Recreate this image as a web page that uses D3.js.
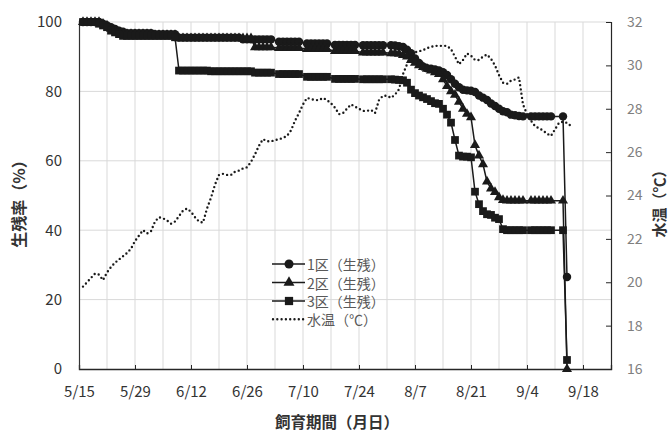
<!DOCTYPE html>
<html>
<head>
<meta charset="utf-8">
<script src="https://cdn.jsdelivr.net/npm/d3@7"></script>
<style>
  body { margin: 0; background: #fff; }
  svg text { font-family: "Noto Sans CJK JP", "Noto Sans", sans-serif; }
</style>
</head>
<body>
<div id="chart"></div>
<script>
//=====================data=========================
// days counted from 5/15
const xTickDays = [0, 14, 28, 42, 56, 70, 84, 98, 112, 126];
const xTickLabels = ['5/15', '5/29', '6/12', '6/26', '7/10', '7/24', '8/7', '8/21', '9/4', '9/18'];
const yLeftTicks = [0, 20, 40, 60, 80, 100];
const yRightTicks = [16, 18, 20, 22, 24, 26, 28, 30, 32];

const seriesNames = ['1区（生残）', '2区（生残）', '3区（生残）', '水温（℃）'];

// survival observation days
const obsDays = [
  1, 2, 3, 4, 5, 6, 7, 8, 9, 10, 11, 12, 13, 14, 15, 16, 17, 18, 19, 20, 21, 22, 23, 24,
  25, 26, 27, 28, 29, 30, 31, 32, 33, 34, 35, 36, 37, 38, 39, 40, 41, 42, 43, 44, 45, 46, 47, 48,
  50, 51, 52, 53, 54, 55, 57, 58, 59, 60, 61, 62, 64, 65, 66, 67, 68, 69, 71, 72, 73, 74, 75, 76,
  78, 79, 80, 81, 82, 83, 84, 85, 86, 87, 88, 89, 90, 91, 92, 93, 94, 95, 96, 97, 98, 99, 100,
  101, 102, 103, 104, 105, 106, 107, 108, 109, 110, 111, 113, 114, 115, 116, 117, 118, 121, 122];

const ku1 = [
  100, 100, 100, 100, 100, 99.5, 99, 98.5, 98, 97.5, 97.2, 96.8, 96.8, 96.8, 96.8, 96.8, 96.8, 96.8, 96.5, 96.5, 96.5, 96.5, 96.5, 96.5,
  95.5, 95.5, 95.5, 95.5, 95.5, 95.5, 95.5, 95.5, 95.5, 95.5, 95.5, 95.5, 95.5, 95.5, 95.5, 95.5, 95, 95, 95, 95, 95, 95, 95, 95,
  94.3, 94.3, 94.3, 94.3, 94.3, 94.3, 93.8, 93.8, 93.8, 93.8, 93.8, 93.8, 93.4, 93.4, 93.4, 93.4, 93.4, 93.4, 93.3, 93.3, 93.3, 93.3, 93.3, 93.3,
  93.3, 93.2, 93, 92.8, 92, 91, 89.5, 88.2, 87.2, 86.7, 86.5, 86.3, 86, 85.5, 84.7, 83.5, 82.2, 81.2, 80.5, 80.3, 80.2, 79.8, 78.8,
  78.2, 77.5, 76.5, 75.8, 75, 74.3, 74, 73.3, 73.1, 72.9, 72.8, 72.8, 72.8, 72.8, 72.8, 72.8, 72.8, 72.8, 26.5];

const ku2 = [
  100, 100, 100, 100, 100, 99.5, 99, 98, 97.5, 97, 96.7, 96.5, 96.5, 96.5, 96.5, 96.5, 96.5, 96.5, 96.2, 96.2, 96.2, 96.2, 96.2, 96.2,
  95.3, 95.3, 95.3, 95.3, 95.3, 95.3, 95.3, 95.3, 95.3, 95.3, 95.3, 95.3, 95.3, 95.3, 95.3, 95.3, 95.3, 95.3, 95.3, 92.7, 92.7, 92.7, 92.7, 92.7,
  92.5, 92.5, 92.5, 92.5, 92.5, 92.5, 92.2, 92.2, 92.2, 92.2, 92.2, 92.2, 91.6, 91.6, 91.6, 91.6, 91.6, 91.6, 91.2, 91.2, 91.2, 91.2, 91.2, 91.2,
  91, 91, 90.8, 90.5, 90, 89, 88.2, 87.5, 87, 86.5, 86, 85.5, 85, 83.5, 81.5, 80, 79, 77, 75, 73.5, 72.5, 64.5, 61.5,
  59, 54, 52, 51, 49.5, 48.7, 48.5, 48.5, 48.5, 48.5, 48.5, 48.5, 48.5, 48.5, 48.5, 48.5, 48.5, 48.5, 0];

const ku3 = [
  100, 100, 100, 100, 99.5, 99, 98.5, 97.5, 97, 96.5, 96, 96, 96, 96, 96, 96, 96, 96, 96, 96, 96, 96, 96, 95.6,
  86, 86, 86, 86, 86, 86, 86, 86, 85.8, 85.8, 85.8, 85.8, 85.8, 85.8, 85.8, 85.8, 85.8, 85.8, 85.8, 85.4, 85.4, 85.4, 85.4, 85.4,
  85, 85, 85, 85, 85, 85, 84.2, 84.2, 84.2, 84.2, 84.2, 84.2, 83.6, 83.6, 83.6, 83.6, 83.6, 83.6, 83.5, 83.5, 83.5, 83.5, 83.5, 83.5,
  83.5, 83.4, 83.3, 83.2, 82.5, 80.5, 79.5, 78.8, 78.3, 77.8, 77.2, 76.6, 76.4, 75, 73.3, 71, 66, 61.5, 61.2, 61.2, 61, 51.1, 47.5,
  45.5, 44.6, 44.4, 43.6, 43.2, 40.3, 40, 40, 40, 40, 40, 40, 40, 40, 40, 40, 40, 40, 2.6];

// water temperature (right axis)
const tempDays = [
  1, 2, 3, 4, 5, 6, 7, 8, 9, 10, 11, 12, 13, 14, 15, 16, 17, 18, 19, 20, 21, 22, 23, 24, 25, 26, 27, 28, 29, 30,
  31, 32, 33, 34, 35, 36, 37, 38, 39, 40, 41, 42, 43, 44, 45, 46, 47, 48, 49, 50, 51, 52, 53, 54, 55, 56, 57, 58, 59, 60,
  61, 62, 63, 64, 65, 66, 67, 68, 69, 70, 71, 72, 73, 74, 75, 76, 77, 78, 79, 80, 81, 82, 83, 84, 85, 86, 87, 88, 89, 90,
  91, 92, 93, 94, 95, 96, 97, 98, 99, 100, 101, 102, 103, 104, 105, 106, 107, 108, 109, 110, 111, 112, 113, 114, 115, 116, 117, 118, 119, 120,
  121, 122, 123];
const tempVals = [
  19.8, 20.0, 20.2, 20.4, 20.35, 20.1, 20.45, 20.7, 20.9, 21.05, 21.2, 21.35, 21.55, 21.9, 22.15, 22.4, 22.25, 22.35, 22.8, 23.0, 22.95, 22.85, 22.7, 22.8, 23.05, 23.3, 23.4, 23.25, 23.0, 22.8,
  22.75, 23.4, 23.9, 24.5, 24.95, 25.0, 24.95, 24.95, 25.1, 25.15, 25.25, 25.3, 25.55, 25.9, 26.3, 26.6, 26.5, 26.5, 26.55, 26.6, 26.65, 26.75, 27.0, 27.45, 27.8, 28.2, 28.5, 28.45, 28.4, 28.4,
  28.5, 28.4, 28.25, 28.05, 27.75, 27.8, 28.0, 28.2, 28.1, 28.0, 27.9, 27.9, 27.95, 27.8, 28.4, 28.6, 28.6, 28.5, 28.65, 28.9, 29.6, 30.05, 30.45, 30.6, 30.65, 30.7, 30.8, 30.85, 30.9, 30.9,
  30.9, 30.9, 30.75, 30.4, 30.05, 30.25, 30.55, 30.45, 30.25, 30.25, 30.4, 30.5, 30.3, 30.0, 29.55, 29.2, 29.15, 29.3, 29.35, 29.45, 28.2, 27.75, 27.45, 27.2, 27.1, 27.0, 26.85, 26.75, 27.05, 27.35,
  27.4, 27.35, 27.2];

//=====================plot size=========================
var W = 670, H = 431;
var plot = {left: 79, right: 611, top: 22, bottom: 369};
var ink = '#1a1a1a';

var svg = d3.select('#chart')
  .append('svg')
  .attr('width', W)
  .attr('height', H);

var x = d3.scaleLinear().domain([0, 133]).range([plot.left, plot.right]);
var y = d3.scaleLinear().domain([0, 100]).range([plot.bottom, plot.top]);
var yT = d3.scaleLinear().domain([16, 32]).range([plot.bottom, plot.top]);

//=====================grid=========================
var gridDays = d3.range(7, 133, 7);
svg.append('g')
  .selectAll('line')
  .data(gridDays)
  .enter()
  .append('line')
  .attr('x1', d => x(d)).attr('x2', d => x(d))
  .attr('y1', plot.top).attr('y2', plot.bottom)
  .attr('stroke', '#d9d9d9').attr('stroke-width', 1);

svg.append('g')
  .selectAll('line')
  .data(yLeftTicks.slice(1))
  .enter()
  .append('line')
  .attr('x1', plot.left).attr('x2', plot.right)
  .attr('y1', d => y(d)).attr('y2', d => y(d))
  .attr('stroke', '#d9d9d9').attr('stroke-width', 1);

//=====================axes=========================
var xAxis = d3.axisBottom(x)
  .tickValues(xTickDays)
  .tickSize(-4)
  .tickPadding(10)
  .tickFormat((d, i) => xTickLabels[i]);
var gx = svg.append('g')
  .attr('transform', 'translate(0,' + plot.bottom + ')')
  .call(xAxis);
gx.select('.domain').attr('stroke', '#262626').attr('stroke-width', 1.3);
gx.selectAll('.tick line').attr('stroke', '#262626');
gx.selectAll('.tick text')
  .attr('fill', '#333')
  .attr('font-size', 15)
  .attr('y', 17);

var yAxis = d3.axisLeft(y)
  .tickValues(yLeftTicks)
  .tickSize(0)
  .tickPadding(17);
var gy = svg.append('g')
  .attr('transform', 'translate(' + plot.left + ',0)')
  .call(yAxis);
gy.select('.domain').attr('stroke', '#333').attr('stroke-width', 1.2);
gy.selectAll('.tick text').attr('fill', '#333').attr('font-size', 15);

var yAxisR = d3.axisRight(yT)
  .tickValues(yRightTicks)
  .tickSize(-5)
  .tickPadding(16);
var gyr = svg.append('g')
  .attr('transform', 'translate(' + plot.right + ',0)')
  .call(yAxisR);
gyr.select('.domain').attr('stroke', '#262626').attr('stroke-width', 1.2);
gyr.selectAll('.tick line').attr('stroke', '#262626');
gyr.selectAll('.tick text').attr('fill', '#7f7f7f').attr('font-size', 14);

//=====================axis titles=========================
svg.append('text')
  .attr('x', 337).attr('y', 420.5)
  .attr('text-anchor', 'middle')
  .attr('dominant-baseline', 'central')
  .attr('font-size', 15.5).attr('font-weight', 'bold').attr('fill', '#333')
  .text('飼育期間（月日）');

svg.append('text')
  .attr('transform', 'translate(18,200) rotate(-90)')
  .attr('text-anchor', 'middle')
  .attr('dominant-baseline', 'central')
  .attr('font-size', 16).attr('font-weight', 'bold').attr('fill', '#333')
  .text('生残率（%）');

svg.append('text')
  .attr('transform', 'translate(658.5,200) rotate(-90)')
  .attr('text-anchor', 'middle')
  .attr('dominant-baseline', 'central')
  .attr('font-size', 15).attr('font-weight', 'bold').attr('fill', '#333')
  .text('水温（℃）');

//=====================series=========================
var symbols = [d3.symbolCircle, d3.symbolTriangle, d3.symbolSquare];
var symSizes = [56, 44, 60];
var kuList = [ku1, ku2, ku3];

var line = d3.line()
  .x(d => x(d[0]))
  .y(d => y(d[1]));

kuList.forEach(function(vals, k){
  var pts = obsDays.map((d, i) => [d, vals[i]]);
  var g = svg.append('g');
  g.append('path')
    .attr('d', line(pts))
    .attr('fill', 'none')
    .attr('stroke', ink)
    .attr('stroke-width', 1.5);
  g.selectAll('path.m')
    .data(pts)
    .enter()
    .append('path')
    .attr('class', 'm')
    .attr('d', d3.symbol().type(symbols[k]).size(symSizes[k]))
    .attr('transform', d => 'translate(' + x(d[0]) + ',' + y(d[1]) + ')')
    .attr('fill', ink);
});

var tLine = d3.line()
  .x(d => x(d[0]))
  .y(d => yT(d[1]));
svg.append('path')
  .attr('d', tLine(tempDays.map((d, i) => [d, tempVals[i]])))
  .attr('fill', 'none')
  .attr('stroke', ink)
  .attr('stroke-width', 2.4)
  .attr('stroke-linecap', 'round')
  .attr('stroke-dasharray', '0 4.3');

//=====================legend=========================
var legend = svg.append('g');
var legY = [264, 282.5, 301, 319.3];
seriesNames.forEach(function(name, i){
  var gy0 = legY[i];
  var ln = legend.append('line')
    .attr('x1', 272).attr('x2', 305)
    .attr('y1', gy0).attr('y2', gy0)
    .attr('stroke', ink);
  if (i < 3) {
    ln.attr('stroke-width', 1.5);
    legend.append('path')
      .attr('d', d3.symbol().type(symbols[i]).size(symSizes[i] + 8))
      .attr('transform', 'translate(289,' + gy0 + ')')
      .attr('fill', ink);
  } else {
    ln.attr('x1', 273).attr('x2', 305)
      .attr('stroke-width', 2.4)
      .attr('stroke-linecap', 'round')
      .attr('stroke-dasharray', '0 4.3');
  }
  legend.append('text')
    .attr('x', 307).attr('y', gy0)
    .attr('dominant-baseline', 'central')
    .attr('font-size', 14)
    .attr('fill', '#595959')
    .text(name);
});
</script>
</body>
</html>
